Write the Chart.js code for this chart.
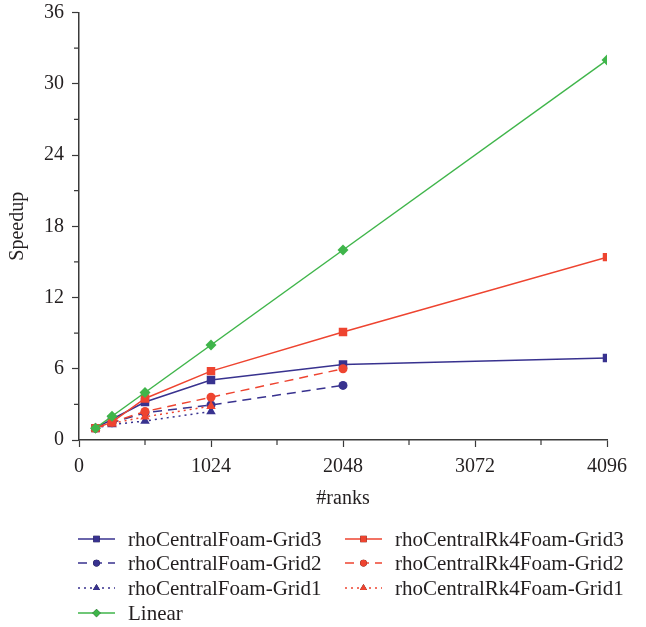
<!DOCTYPE html>
<html>
<head>
<meta charset="utf-8">
<script src="https://cdn.jsdelivr.net/npm/chart.js@4/dist/chart.umd.min.js"></script>
<style>
  html, body { margin: 0; padding: 0; background: #fff; overflow: hidden; }
  canvas { display: block; }
</style>
</head>
<body>
<canvas id="speedup" width="646" height="627"></canvas>
<script>
// Number of MPI ranks for each run
const ranks = [128, 256, 512, 1024, 2048, 4096];

// Measured speedup relative to 128 ranks
const cfGrid3 = [1, 1.75, 3.2, 5.05, 6.35, 6.9];
const cfGrid2 = [1, 1.45, 2.3, 2.95, 4.6];
const cfGrid1 = [1, 1.3, 1.6, 2.4];
const rk4Grid3 = [1, 1.5, 3.5, 5.8, 9.1, 15.4];
const rk4Grid2 = [1, 1.5, 2.4, 3.6, 6.0];
const rk4Grid1 = [1, 1.4, 1.95, 2.85];
const linear = [1, 2, 4, 8, 16, 32];

const xTicks = [0, 1024, 2048, 3072, 4096];
const yTicks = [0, 6, 12, 18, 24, 30, 36];

const BLUE = '#38328f';
const RED = '#ee4430';
const GREEN = '#3fb54a';
const AXIS = '#3a3a3a';
const FONT = "'Liberation Serif', 'Times New Roman', serif";

const toPoints = (vals) => vals.map((v, i) => ({ x: ranks[i], y: v }));

const series = [
  { label: 'rhoCentralFoam-Grid3', data: cfGrid3, color: BLUE, dash: [], marker: 'rect', radius: 6, order: 4 },
  { label: 'rhoCentralFoam-Grid2', data: cfGrid2, color: BLUE, dash: [9, 6], marker: 'circle', radius: 4.5, order: 6 },
  { label: 'rhoCentralFoam-Grid1', data: cfGrid1, color: BLUE, dash: [2, 4], marker: 'triangle', radius: 5.5, order: 7 },
  { label: 'Linear', data: linear, color: GREEN, dash: [], marker: 'rectRot', radius: 5.5, order: 0 },
  { label: 'rhoCentralRk4Foam-Grid3', data: rk4Grid3, color: RED, dash: [], marker: 'rect', radius: 6, order: 1 },
  { label: 'rhoCentralRk4Foam-Grid2', data: rk4Grid2, color: RED, dash: [9, 6], marker: 'circle', radius: 4.5, order: 2 },
  { label: 'rhoCentralRk4Foam-Grid1', data: rk4Grid1, color: RED, dash: [2, 4], marker: 'triangle', radius: 5.5, order: 3 }
];

// legend slots: [lineStartX, textX, rowCenterY]
const legendSlots = [
  [78, 128, 539], [78, 128, 563], [78, 128, 588], [78, 128, 613],
  [345, 395, 539], [345, 395, 563], [345, 395, 588]
];

const legendPlugin = {
  id: 'twoColumnLegend',
  afterDraw(chart) {
    const ctx = chart.ctx;
    chart.data.datasets.forEach((ds, i) => {
      const [x0, tx, y] = legendSlots[i];
      ctx.save();
      ctx.strokeStyle = ds.borderColor;
      ctx.lineWidth = 1.5;
      ctx.setLineDash(ds.borderDash);
      ctx.beginPath();
      ctx.moveTo(x0, y);
      ctx.lineTo(x0 + 37, y);
      ctx.stroke();
      ctx.setLineDash([]);
      Chart.helpers.drawPoint(ctx, {
        pointStyle: ds.pointStyle,
        radius: ds.pointRadius * 0.75,
        borderWidth: 0,
        rotation: 0
      }, x0 + 18.5, y);
      ctx.fillStyle = ds.pointBackgroundColor;
      ctx.fill();
      ctx.fillStyle = '#231f20';
      ctx.font = '21px ' + FONT;
      ctx.textBaseline = 'middle';
      ctx.textAlign = 'left';
      ctx.fillText(ds.label, tx, y + 1);
      ctx.restore();
    });
  }
};

// shorter unlabeled ticks halfway between the labeled ones
const minorTicks = {
  id: 'minorTicks',
  afterDraw(chart) {
    const ctx = chart.ctx;
    const xs = chart.scales.x, ys = chart.scales.y;
    ctx.save();
    ctx.strokeStyle = AXIS;
    ctx.lineWidth = 1.2;
    ctx.beginPath();
    for (let v = 512; v < 4096; v += 1024) {
      const px = xs.getPixelForValue(v);
      ctx.moveTo(px, xs.top);
      ctx.lineTo(px, xs.top + 5);
    }
    for (let v = 3; v < 36; v += 6) {
      const py = ys.getPixelForValue(v);
      ctx.moveTo(ys.right, py);
      ctx.lineTo(ys.right - 5, py);
    }
    ctx.stroke();
    ctx.restore();
  }
};

new Chart(document.getElementById('speedup'), {
  type: 'line',
  data: {
    datasets: series.map(s => ({
      label: s.label,
      data: toPoints(s.data),
      borderColor: s.color,
      backgroundColor: s.color,
      pointBackgroundColor: s.color,
      pointBorderColor: s.color,
      pointBorderWidth: 0,
      pointStyle: s.marker,
      pointRadius: s.radius,
      borderWidth: 1.5,
      borderDash: s.dash,
      tension: 0,
      order: s.order
    }))
  },
  options: {
    responsive: false,
    animation: false,
    maintainAspectRatio: false,
    layout: { padding: { left: 6, right: 39, top: 12.5, bottom: 116 } },
    plugins: {
      legend: { display: false },
      tooltip: { enabled: false }
    },
    scales: {
      x: {
        type: 'linear',
        min: 0,
        max: 4096,
        afterBuildTicks: (scale) => { scale.ticks = xTicks.map(v => ({ value: v })); },
        // edge labels may overhang; the layout padding already leaves room
        afterFit: (scale) => { scale.paddingLeft = 0; scale.paddingRight = 0; },
        ticks: { color: '#231f20', font: { family: FONT, size: 20 }, padding: 8, maxRotation: 0, callback: (v) => String(v) },
        grid: { drawOnChartArea: false, drawTicks: true, tickLength: 7, color: AXIS, tickWidth: 1.2 },
        border: { color: AXIS, width: 1.5 },
        title: { display: true, text: '#ranks', color: '#231f20', font: { family: FONT, size: 20 }, padding: { top: 0, bottom: 0 } }
      },
      y: {
        type: 'linear',
        min: 0,
        max: 36,
        afterBuildTicks: (scale) => { scale.ticks = yTicks.map(v => ({ value: v })); },
        afterFit: (scale) => { scale.paddingTop = 0; scale.paddingBottom = 0; },
        ticks: { color: '#231f20', font: { family: FONT, size: 20 }, padding: 8, callback: (v) => String(v) },
        grid: { drawOnChartArea: false, drawTicks: true, tickLength: 7, color: AXIS, tickWidth: 1.2 },
        border: { color: AXIS, width: 1.5 },
        title: { display: true, text: 'Speedup', color: '#231f20', font: { family: FONT, size: 20 }, padding: { top: 0, bottom: 6 } }
      }
    }
  },
  plugins: [legendPlugin, minorTicks]
});
</script>
</body>
</html>
